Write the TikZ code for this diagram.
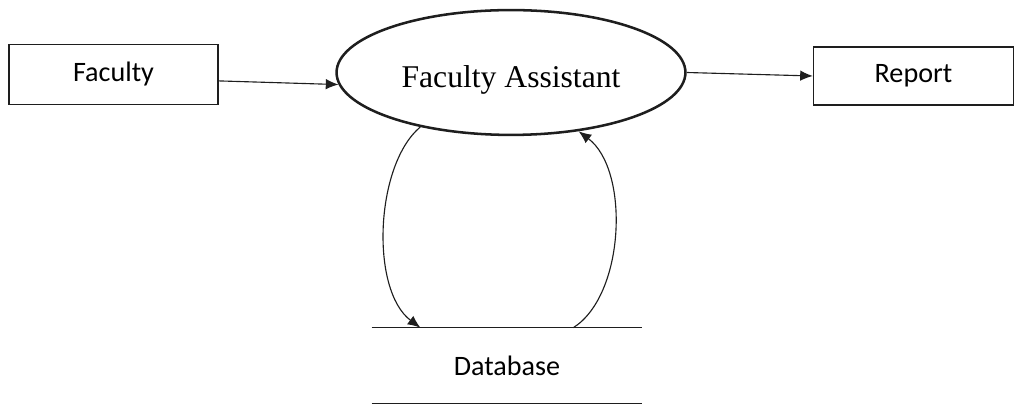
\documentclass[tikz,border=0pt]{standalone}
\usepackage{fontspec}
\setmainfont{Carlito}
\newfontfamily\serifface{Liberation Serif}
\usepackage{tikz}
\usepackage{xcolor}
\usetikzlibrary{calc}
\usetikzlibrary{shapes.geometric}
\usetikzlibrary{arrows.meta}
\definecolor{inkc}{HTML}{1E1E1E}
\colorlet{inkcolor}{inkc}
\tikzstyle{entity} =[
    draw=inkcolor,
    line width=0.9pt,
    rectangle,
    minimum height=1.5cm,
    font=\fontsize{20}{24}\selectfont
    ]
\tikzstyle{process} = [
    draw=inkcolor,
    line width=1.8pt,
    ellipse,
    inner sep=0pt,
    minimum width=8.72cm,
    minimum height=3.12cm,
    text height=22pt,
    text depth=0pt,
    font=\serifface\fontsize{22.5}{27}\selectfont
    ]
\tikzstyle{store} = [
    rectangle,
    inner sep=0pt,
    minimum width=6.75cm,
    minimum height=1.875cm,
    font=\fontsize{20}{24}\selectfont
    ]
\tikzstyle{flow} = [
    draw=inkcolor,
    line width=0.8pt,
    -{Latex[length=9pt,width=7.5pt]}
    ]

\begin{document}
\begin{tikzpicture}[x=0.025cm, y=-0.025cm]
\useasboundingbox (0,0) rectangle (1015,405);
\node[entity, minimum width=5.22cm] (faculty) at (113.5,74.5) {Faculty};
\node[process] (assistant) at (511,72.5) {Faculty Assistant};
\node[entity, minimum width=5cm, minimum height=1.45cm] (report) at (913.5,76) {Report};
\node[store] (db) at (507,365.5) {Database};
% data store lines
\draw[inkcolor, line width=0.9pt] (db.north west) -- (db.north east);
\draw[inkcolor, line width=0.9pt] (db.south west) -- (db.south east);
% flows
\draw[flow] ([yshift=-0.16cm]faculty.east) -- (assistant.184);
\draw[flow] (assistant.east) -- (report.west);
\draw[flow] (assistant.211) .. controls (375,165) and (370,290) .. ($(db.north west)!0.18!(db.north east)$);
\draw[flow] ($(db.north west)!0.745!(db.north east)$) .. controls (625,295) and (630,170) .. (assistant.-41);
\end{tikzpicture}
\end{document}
